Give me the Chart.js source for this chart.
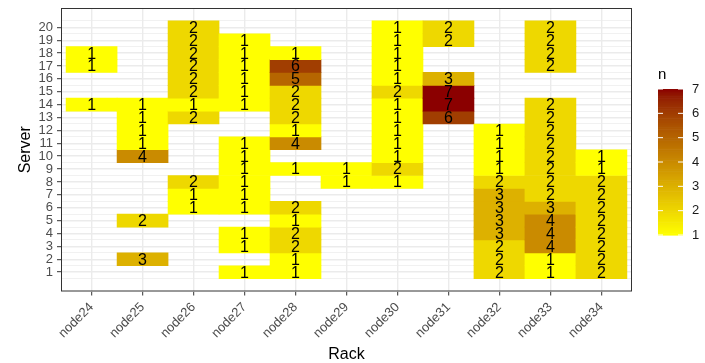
<!DOCTYPE html>
<html>
<head>
<meta charset="utf-8">
<script src="https://cdn.jsdelivr.net/npm/chart.js@4"></script>
<style>
  html, body { margin: 0; padding: 0; background: #fff; }
  #wrap { width: 705px; height: 363px; }
</style>
</head>
<body>
<div id="wrap"><canvas id="heat"></canvas></div>
<script>
// racks on x, servers on y
const racks = ["node24", "node25", "node26", "node27", "node28", "node29",
               "node30", "node31", "node32", "node33", "node34"];
const servers = [1, 2, 3, 4, 5, 6, 7, 8, 9, 10, 11, 12, 13, 14, 15, 16, 17, 18, 19, 20];

// counts per rack, first entry = server 1 ... last = server 20 (null = no tile)
const node24 = [null, null, null, null, null, null, null, null, null, null, null, null, null, 1, null, null, 1, 1, null, null];
const node25 = [null, 3, null, null, 2, null, null, null, null, 4, 1, 1, 1, 1, null, null, null, null, null, null];
const node26 = [null, null, null, null, null, 1, 1, 2, null, null, null, null, 2, 1, 2, 2, 2, 2, 2, 2];
const node27 = [1, null, 1, 1, null, 1, 1, 1, 1, 1, 1, null, null, 1, 1, 1, 1, 1, 1, null];
const node28 = [1, 1, 2, 2, 1, 2, null, null, 1, null, 4, 1, 2, 2, 2, 5, 6, 1, null, null];
const node29 = [null, null, null, null, null, null, null, 1, 1, null, null, null, null, null, null, null, null, null, null, null];
const node30 = [null, null, null, null, null, null, null, 1, 2, 1, 1, 1, 1, 1, 2, 1, 1, 1, 1, 1];
const node31 = [null, null, null, null, null, null, null, null, null, null, null, null, 6, 7, 7, 3, null, null, 2, 2];
const node32 = [2, 2, 2, 3, 3, 3, 3, 2, 1, 1, 1, 1, null, null, null, null, null, null, null, null];
const node33 = [1, 1, 4, 4, 4, 3, 2, 2, 2, 2, 2, 2, 2, 2, null, null, 2, 2, 2, 2];
const node34 = [2, 2, 2, 2, 2, 2, 2, 2, 1, 1, null, null, null, null, null, null, null, null, null, null];
const countsByRack = [node24, node25, node26, node27, node28, node29, node30, node31, node32, node33, node34];

const legendTicks = [1, 2, 3, 4, 5, 6, 7];
const nMin = 1, nMax = 7;

// --- yellow -> darkred gradient, interpolated in Lab like ggplot ---
function hexToLab(hex) {
  const c = [1, 3, 5].map(i => parseInt(hex.substr(i, 2), 16) / 255)
    .map(v => v <= 0.04045 ? v / 12.92 : Math.pow((v + 0.055) / 1.055, 2.4));
  const X = (c[0] * 0.4124 + c[1] * 0.3576 + c[2] * 0.1805) / 0.95047;
  const Y = (c[0] * 0.2126 + c[1] * 0.7152 + c[2] * 0.0722);
  const Z = (c[0] * 0.0193 + c[1] * 0.1192 + c[2] * 0.9505) / 1.08883;
  const f = t => t > 0.008856 ? Math.cbrt(t) : 7.787 * t + 16 / 116;
  return [116 * f(Y) - 16, 500 * (f(X) - f(Y)), 200 * (f(Y) - f(Z))];
}
function labToRgb(L, a, b) {
  const fy = (L + 16) / 116, fx = fy + a / 500, fz = fy - b / 200;
  const inv = t => t * t * t > 0.008856 ? t * t * t : (t - 16 / 116) / 7.787;
  const X = inv(fx) * 0.95047, Y = inv(fy), Z = inv(fz) * 1.08883;
  const lin = [
    X * 3.2406 + Y * -1.5372 + Z * -0.4986,
    X * -0.9689 + Y * 1.8758 + Z * 0.0415,
    X * 0.0557 + Y * -0.2040 + Z * 1.0570
  ];
  const rgb = lin.map(v => v <= 0.0031308 ? 12.92 * v : 1.055 * Math.pow(v, 1 / 2.4) - 0.055)
    .map(v => Math.round(Math.min(1, Math.max(0, v)) * 255));
  return `rgb(${rgb[0]},${rgb[1]},${rgb[2]})`;
}
const lowLab = hexToLab("#FFFF00");
const highLab = hexToLab("#8B0000");
function fillFor(n) {
  const t = (n - nMin) / (nMax - nMin);
  return labToRgb(...lowLab.map((v, i) => v + (highLab[i] - v) * t));
}

// one floating bar per tile
const tiles = [];
countsByRack.forEach((col, i) => {
  col.forEach((n, j) => {
    if (n != null) tiles.push({ x: i + 1, y: [servers[j] - 0.5, servers[j] + 0.5], n: n });
  });
});

const FONT = "'Liberation Sans', Arial, sans-serif";
Chart.defaults.font.family = FONT;

// numbers on the tiles
const tileLabels = {
  id: "tileLabels",
  afterDatasetsDraw(chart) {
    const { ctx, scales: { x, y } } = chart;
    ctx.save();
    ctx.font = "16px " + FONT;
    ctx.fillStyle = "#000";
    ctx.textAlign = "center";
    ctx.textBaseline = "middle";
    tiles.forEach(t => {
      ctx.fillText(String(t.n), x.getPixelForValue(t.x), y.getPixelForValue((t.y[0] + t.y[1]) / 2) + 1);
    });
    ctx.restore();
  }
};

// panel border + colourbar legend
const panelAndLegend = {
  id: "panelAndLegend",
  afterDraw(chart) {
    const { ctx, chartArea: a } = chart;
    ctx.save();
    ctx.strokeStyle = "#333333";
    ctx.lineWidth = 1;
    ctx.strokeRect(a.left + 0.5, a.top + 0.5, a.right - a.left - 1, a.bottom - a.top - 1);

    const barX = 658, barW = 25, top = 89, bottom = 235;
    const steps = 80;
    for (let i = 0; i < steps; i++) {
      const v = nMin + (nMax - nMin) * (i + 0.5) / steps;
      ctx.fillStyle = fillFor(v);
      const y0 = bottom - (bottom - top) * (i + 1) / steps;
      ctx.fillRect(barX, y0, barW, (bottom - top) / steps + 0.6);
    }
    ctx.font = "15px " + FONT;
    ctx.fillStyle = "#000";
    ctx.textAlign = "left";
    ctx.textBaseline = "middle";
    ctx.fillText("n", 658, 75);
    ctx.font = "13px " + FONT;
    ctx.fillStyle = "#1a1a1a";
    ctx.strokeStyle = "#fff";
    legendTicks.forEach(v => {
      const yy = bottom - (bottom - top) * (v - nMin) / (nMax - nMin);
      ctx.beginPath();
      ctx.moveTo(barX, yy); ctx.lineTo(barX + 5, yy);
      ctx.moveTo(barX + barW - 5, yy); ctx.lineTo(barX + barW, yy);
      ctx.stroke();
      ctx.fillText(String(v), 692, yy);
    });
    ctx.restore();
  }
};

const isInt = v => Math.abs(v - Math.round(v)) < 1e-9;

new Chart(document.getElementById("heat"), {
  type: "bar",
  data: {
    datasets: [{
      data: tiles,
      backgroundColor: c => c.raw ? fillFor(c.raw.n) : "#fff",
      borderWidth: 0,
      barPercentage: 1,
      categoryPercentage: 1
    }]
  },
  plugins: [tileLabels, panelAndLegend],
  options: {
    responsive: true,
    maintainAspectRatio: false,
    animation: false,
    layout: { padding: { top: 8, right: 73, left: 0, bottom: 0 } },
    plugins: { legend: { display: false }, tooltip: { enabled: false } },
    scales: {
      x: {
        type: "linear",
        min: 0.4,
        max: 11.6,
        offset: false,
        afterBuildTicks: s => { s.ticks = racks.map((_, i) => ({ value: i + 1 })); },
        afterFit: s => {
          s.height = 71.5;
          s.paddingLeft = 0; s.paddingRight = 0;
        },
        border: { display: false },
        grid: { offset: false, color: "#EBEBEB", lineWidth: 1.4, tickColor: "#333333", tickLength: 4, tickWidth: 1 },
        ticks: {
          autoSkip: false,
          maxRotation: 45,
          minRotation: 45,
          padding: 4,
          color: "#4D4D4D",
          font: { size: 13 },
          callback: v => racks[Math.round(v) - 1]
        },
        title: { display: true, text: "Rack", color: "#000", font: { size: 16, lineHeight: 1 }, padding: { top: 0, bottom: 0 } }
      },
      y: {
        type: "linear",
        min: -0.5,
        max: 21.5,
        afterBuildTicks: s => {
          const t = [];
          for (let v = 0.5; v <= 20.5; v += 0.5) t.push({ value: v });
          s.ticks = t;
        },
        afterFit: s => {
          s.width = 61;
          s.paddingTop = 0; s.paddingBottom = 0;
        },
        border: { display: false },
        grid: {
          color: "#EBEBEB",
          lineWidth: c => isInt(c.tick.value) ? 1.4 : 0.7,
          tickColor: c => isInt(c.tick.value) ? "#333333" : "rgba(0,0,0,0)",
          tickLength: 4,
          tickWidth: 1
        },
        ticks: {
          autoSkip: false,
          padding: 4,
          color: "#4D4D4D",
          font: { size: 13 },
          callback: v => isInt(v) ? String(Math.round(v)) : ""
        },
        title: { display: true, text: "Server", color: "#000", font: { size: 16 }, padding: { top: 16, bottom: 0 } }
      }
    }
  }
});
</script>
</body>
</html>
